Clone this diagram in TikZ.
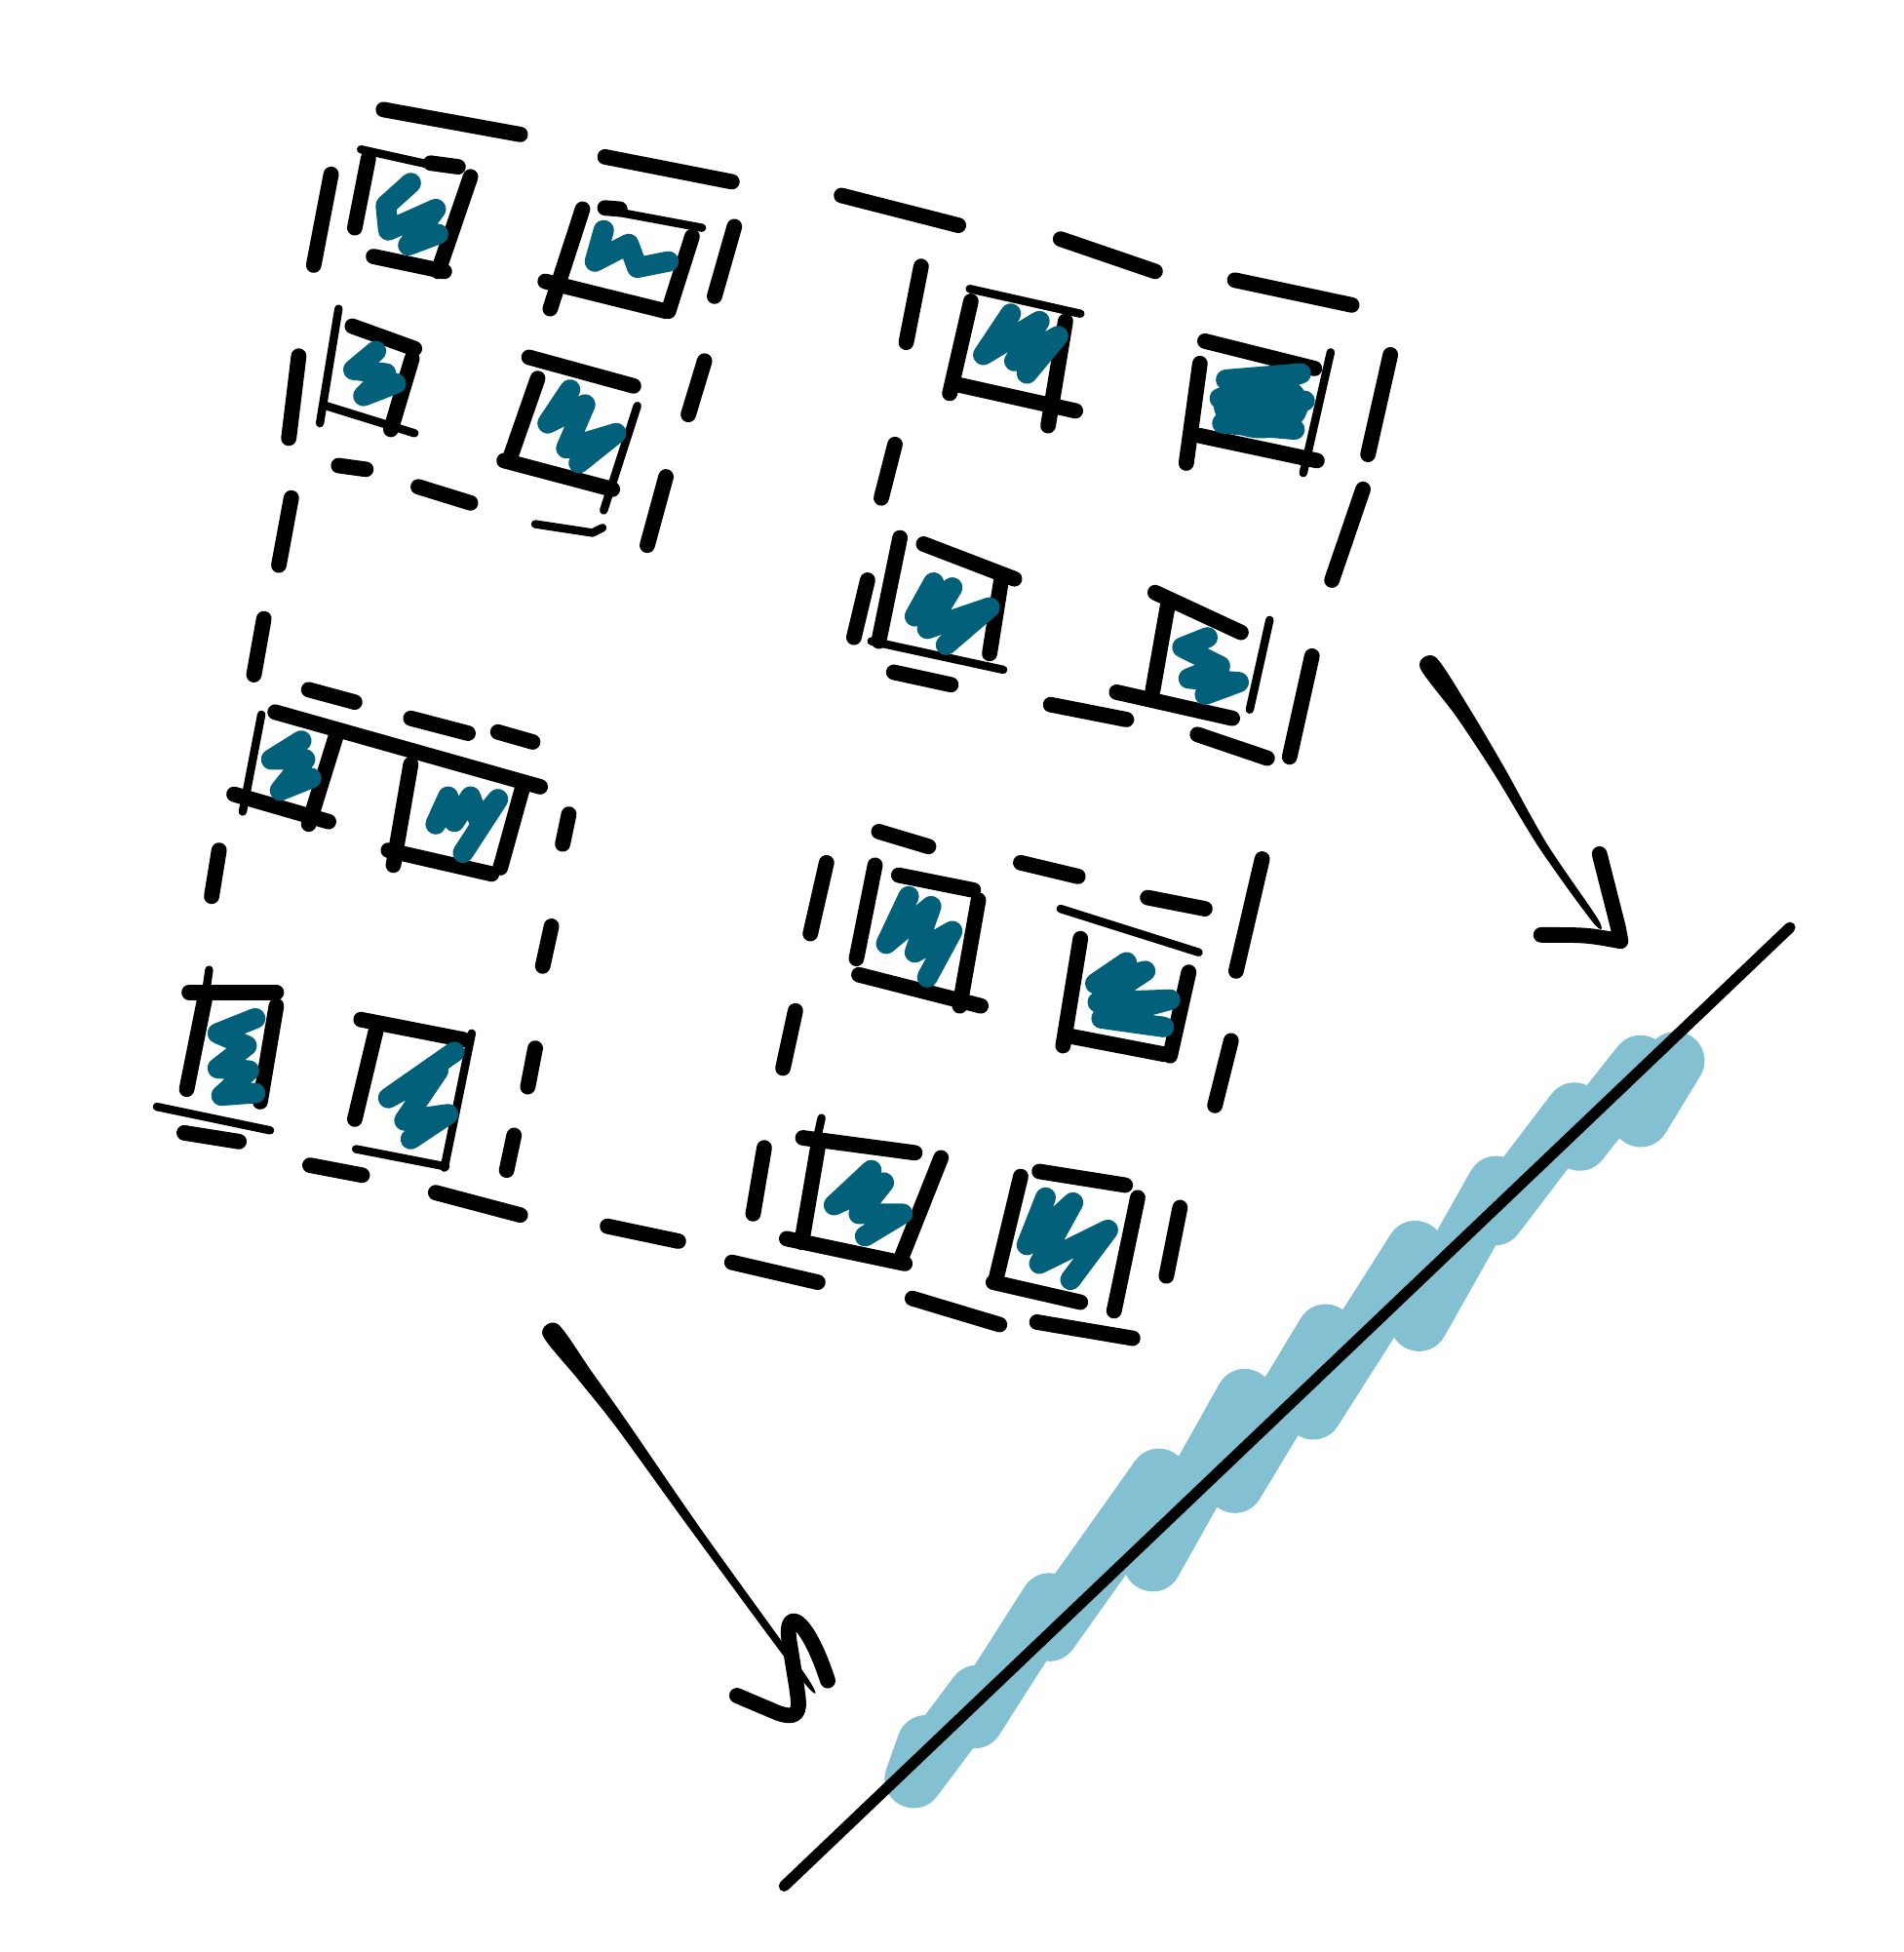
\documentclass[tikz,border=0pt]{standalone}
\usepackage{tikz}
\definecolor{inkteal}{RGB}{3,96,122}
\definecolor{waveblue}{RGB}{131,192,209}
\tikzset{
	pen/.style={line width=4.5pt,line cap=round,line join=round},
	fine/.style={line width=2.4pt,line cap=round,line join=round},
	scrib/.style={inkteal,line width=6pt,line cap=round,line join=round},
	wave/.style={waveblue,line width=17pt,line cap=round,line join=round}
}
\begin{document}
\begin{tikzpicture}[x=0.012767cm,y=-0.012767cm]
		\useasboundingbox (0,0) rectangle (1529,1568);
		
		% dashed frames
		\draw[pen] (308,88) -- (418,108);
		\draw[pen] (486,126) -- (588,146);
		\draw[pen] (676,157) -- (770,181);
		\draw[pen] (852,192) -- (928,218);
		\draw[pen] (992,225) -- (1086,245);
		\draw[pen] (590,182) -- (574,238);
		\draw[pen] (566,290) -- (553,333);
		\draw[pen] (535,383) -- (520,438);
		\draw[pen] (272,374) -- (294,377);
		\draw[pen] (336,391) -- (378,404);
		\draw[fine] (430,421) -- (476,428) -- (484,424);
		\draw[pen] (266,140) -- (252,213);
		\draw[pen] (240,286) -- (232,352);
		\draw[pen] (234,400) -- (224,454);
		\draw[pen] (212,497) -- (204,542);
		\draw[pen] (1117,285) -- (1099,365);
		\draw[pen] (1095,393) -- (1070,466);
		\draw[pen] (1054,527) -- (1036,608);
		\draw[pen] (718,540) -- (764,550);
		\draw[pen] (844,566) -- (905,578);
		\draw[pen] (962,590) -- (1018,609);
		\draw[pen] (740,214) -- (728,275);
		\draw[pen] (719,357) -- (708,400);
		\draw[pen] (697,466) -- (686,512);
		\draw[pen] (248,554) -- (285,564);
		\draw[pen] (330,577) -- (376,589);
		\draw[pen] (400,588) -- (428,596);
		\draw[pen] (457,654) -- (452,678);
		\draw[pen] (443,744) -- (436,776);
		\draw[pen] (430,842) -- (424,873);
		\draw[pen] (413,912) -- (407,940);
		\draw[pen] (176,683) -- (170,720);
		\draw[pen] (148,910) -- (192,917);
		\draw[pen] (249,936) -- (291,944);
		\draw[pen] (350,958) -- (418,976);
		\draw[pen] (706,668) -- (746,680);
		\draw[pen] (820,693) -- (866,704);
		\draw[pen] (922,721) -- (968,730);
		\draw[pen] (1014,690) -- (993,780);
		\draw[pen] (989,836) -- (976,888);
		\draw[pen] (948,970) -- (937,1025);
		\draw[pen] (664,693) -- (651,750);
		\draw[pen] (639,812) -- (629,858);
		\draw[pen] (614,922) -- (605,975);
		\draw[pen] (488,985) -- (545,997);
		\draw[pen] (588,1014) -- (657,1030);
		\draw[pen] (733,1043) -- (803,1064);
		\draw[pen] (833,1062) -- (910,1075);
		
		% small squares, top left
		\draw[fine] (290,120) -- (344,132);
		\draw[pen] (346,131) -- (368,134);
		\draw[pen] (296,127) -- (285,183);
		\draw[pen] (378,142) -- (352,218);
		\draw[pen] (300,206) -- (357,218);
		\draw[fine] (494,170) -- (564,183);
		\draw[pen] (486,167) -- (498,168);
		\draw[pen] (468,168) -- (442,248);
		\draw[pen] (438,226) -- (535,250);
		\draw[pen] (556,190) -- (537,250);
		\draw[fine] (272,248) -- (257,340);
		\draw[pen] (283,262) -- (333,280);
		\draw[pen] (331,288) -- (314,345);
		\draw[fine] (262,326) -- (333,348);
		\draw[pen] (425,287) -- (509,310);
		\draw[pen] (432,304) -- (409,370);
		\draw[pen] (405,370) -- (492,393);
		\draw[fine] (512,326) -- (485,410);
		
		% small squares, top right
		\draw[fine] (779,232) -- (868,252);
		\draw[pen] (780,242) -- (763,316);
		\draw[pen] (856,258) -- (842,342);
		\draw[pen] (765,308) -- (864,330);
		\draw[pen] (968,274) -- (1056,296);
		\draw[fine] (1069,283) -- (1047,380);
		\draw[pen] (964,292) -- (953,372);
		\draw[pen] (964,350) -- (1058,370);
		\draw[pen] (723,432) -- (706,515);
		\draw[pen] (742,437) -- (815,465);
		\draw[pen] (805,462) -- (795,525);
		\draw[fine] (700,515) -- (806,538);
		\draw[pen] (928,476) -- (997,508);
		\draw[pen] (938,487) -- (926,555);
		\draw[fine] (1020,498) -- (1004,570);
		\draw[pen] (897,556) -- (990,577);
		
		% small squares, bottom left
		\draw[pen] (221,572) -- (434,632);
		\draw[fine] (210,574) -- (195,652);
		\draw[pen] (270,591) -- (248,662);
		\draw[pen] (188,638) -- (264,660);
		\draw[pen] (330,614) -- (316,695);
		\draw[pen] (420,632) -- (402,697);
		\draw[pen] (312,683) -- (395,702);
		\draw[pen] (152,797) -- (222,797);
		\draw[fine] (168,779) -- (165,800);
		\draw[pen] (165,800) -- (150,875);
		\draw[pen] (222,808) -- (209,885);
		\draw[fine] (126,889) -- (217,908);
		\draw[pen] (290,819) -- (372,835);
		\draw[fine] (379,830) -- (357,938);
		\draw[pen] (302,828) -- (285,899);
		\draw[fine] (286,923) -- (358,937);
		
		% small squares, bottom right
		\draw[pen] (722,703) -- (782,715);
		\draw[pen] (703,695) -- (688,770);
		\draw[pen] (786,723) -- (771,808);
		\draw[pen] (690,783) -- (788,808);
		\draw[fine] (852,730) -- (963,765);
		\draw[pen] (868,754) -- (854,840);
		\draw[pen] (955,781) -- (940,848);
		\draw[pen] (858,832) -- (936,847);
		\draw[fine] (660,898) -- (656,916);
		\draw[pen] (645,914) -- (735,926);
		\draw[pen] (658,916) -- (644,998);
		\draw[pen] (756,930) -- (723,1013);
		\draw[pen] (632,995) -- (727,1015);
		\draw[pen] (835,941) -- (904,952);
		\draw[pen] (820,945) -- (800,1028);
		\draw[pen] (914,962) -- (895,1053);
		\draw[pen] (798,1030) -- (868,1046);
		
		% scribbles
		\draw[scrib] (330,147) -- (310,165) -- (312,185) -- (350,168) -- (328,197) -- (352,188);
		\draw[scrib] (485,185) -- (478,210) -- (505,196) -- (512,215) -- (537,210);
		\draw[scrib] (302,282) -- (284,297) -- (310,300) -- (292,318) -- (318,308);
		\draw[scrib] (458,313) -- (440,340) -- (470,325) -- (455,360) -- (495,348) -- (465,372);
		\draw[scrib] (812,252) -- (790,285) -- (835,258) -- (815,290) -- (850,270) -- (825,300);
		\fill[inkteal] (1013,325) ellipse (38 and 27);
		\draw[scrib] (985,305) -- (1045,300) -- (980,320) -- (1048,322) -- (982,340) -- (1040,345);
		\draw[scrib] (750,468) -- (735,495) -- (765,472) -- (745,505) -- (795,488) -- (760,518);
		\draw[scrib] (970,512) -- (950,520) -- (980,535) -- (955,545) -- (995,548) -- (968,558);
		\draw[scrib] (242,595) -- (218,610) -- (245,610) -- (225,635) -- (250,625);
		\draw[scrib] (350,662) -- (360,640) -- (365,660) -- (378,640) -- (385,660) -- (400,642) -- (372,685);
		\draw[scrib] (205,818) -- (175,830) -- (198,840) -- (175,858) -- (200,860) -- (178,880) -- (205,878);
		\draw[scrib] (365,845) -- (312,882) -- (352,860) -- (325,900) -- (360,895) -- (330,915);
		\draw[scrib] (730,720) -- (712,758) -- (748,728) -- (735,765) -- (765,748) -- (745,785);
		\draw[scrib] (905,773) -- (880,790) -- (920,780) -- (882,805) -- (940,803) -- (885,818) -- (935,825);
		\draw[scrib] (700,940) -- (670,968) -- (710,950) -- (690,975) -- (725,975) -- (695,993);
		\draw[scrib] (840,962) -- (825,1000) -- (862,966) -- (835,1015) -- (890,988) -- (860,1028);
		
		% arrows
		\fill plot[smooth cycle] coordinates {(1153.3,527.9) (1180.2,568.6) (1209.0,617.4) (1242.9,678.1) (1284.0,738.7) (1280.0,741.3) (1237.1,681.9) (1201.0,622.6) (1169.8,575.4) (1140.7,536.1)};
		\draw[pen] (1285,686) -- (1300,745) -- (1302,756) .. controls (1275,751) .. (1238,751);
		\fill plot[smooth cycle] coordinates {(448.1,1063.6) (475.0,1101.3) (503.9,1142.2) (562.8,1227.9) (647.9,1346.6) (644.1,1349.4) (557.2,1232.1) (496.1,1147.8) (465.0,1108.7) (435.9,1072.4)};
		\draw[pen] (592,1362) -- (625,1376) .. controls (645,1383) and (642,1370) .. (640,1355) -- (634,1318) .. controls (630,1290) and (648,1298) .. (665,1350);
		
		% wave and line
		\draw[wave] (744,1401) -- (734,1429) -- (785,1361) -- (783,1381) -- (843,1287) -- (843,1311) -- (931,1187) -- (926,1255) -- (1000,1123) -- (992,1192) -- (1065,1071) -- (1055,1133) -- (1137,1004) -- (1140,1062) -- (1202,952) -- (1201,977) -- (1265,893) -- (1269,917) -- (1318,855) -- (1318,898) -- (1346,852);
		\draw[line width=3.2pt,line cap=round] (630,1515) -- (1438,745);
	\end{tikzpicture}
\end{document}
